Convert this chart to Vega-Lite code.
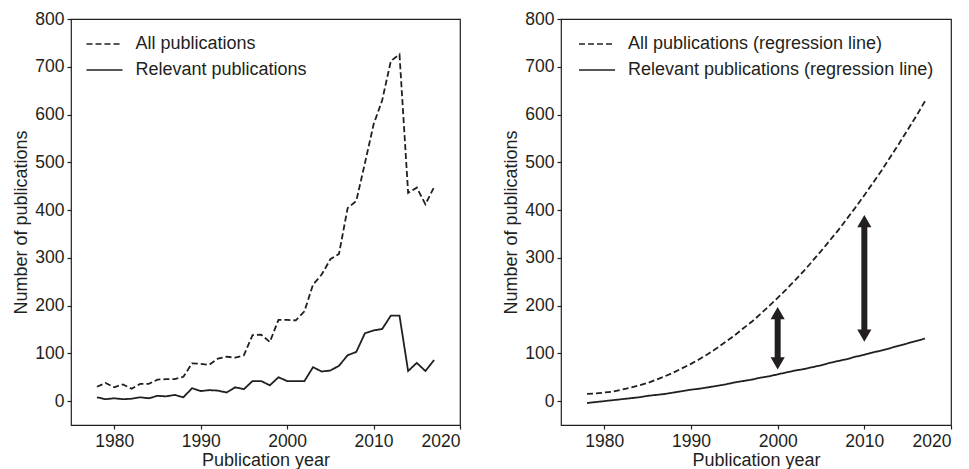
{
  "$schema": "https://vega.github.io/schema/vega-lite/v6.json",
  "background": "white",
  "padding": {"left": 12, "top": 9, "right": 0, "bottom": 0},
  "spacing": 40,
  "config": {
    "font": "Liberation Sans",
    "view": {"stroke": "#231f20", "strokeWidth": 1.2},
    "axis": {"grid": false, "domain": false, "tickColor": "#231f20", "tickSize": 4, "tickWidth": 1.2, "labelFontSize": 17.5, "labelColor": "#231f20", "labelPadding": 3, "titleFontSize": 18, "titleFontWeight": "normal", "titleColor": "#231f20", "titlePadding": 4},
    "axisX": {"titlePadding": 2},
    "legend": {"title": null, "symbolType": "M-2,0H2", "symbolSize": 324, "symbolStrokeWidth": 1.5, "symbolStrokeColor": "#231f20", "labelFontSize": 18, "labelColor": "#231f20", "labelOffset": 21, "rowPadding": 7, "labelLimit": 500}
  },
  "datasets": {
    "raw": [
      {"year":1978,"series":"All publications","count":30},{"year":1979,"series":"All publications","count":38},{"year":1980,"series":"All publications","count":29},{"year":1981,"series":"All publications","count":35},{"year":1982,"series":"All publications","count":26},{"year":1983,"series":"All publications","count":36},{"year":1984,"series":"All publications","count":36},{"year":1985,"series":"All publications","count":45},{"year":1986,"series":"All publications","count":46},{"year":1987,"series":"All publications","count":46},{"year":1988,"series":"All publications","count":51},{"year":1989,"series":"All publications","count":79},{"year":1990,"series":"All publications","count":78},{"year":1991,"series":"All publications","count":76},{"year":1992,"series":"All publications","count":89},{"year":1993,"series":"All publications","count":93},{"year":1994,"series":"All publications","count":91},{"year":1995,"series":"All publications","count":96},{"year":1996,"series":"All publications","count":138},{"year":1997,"series":"All publications","count":139},{"year":1998,"series":"All publications","count":124},{"year":1999,"series":"All publications","count":170},{"year":2000,"series":"All publications","count":170},{"year":2001,"series":"All publications","count":169},{"year":2002,"series":"All publications","count":188},{"year":2003,"series":"All publications","count":244},{"year":2004,"series":"All publications","count":265},{"year":2005,"series":"All publications","count":297},{"year":2006,"series":"All publications","count":308},{"year":2007,"series":"All publications","count":404},{"year":2008,"series":"All publications","count":419},{"year":2009,"series":"All publications","count":498},{"year":2010,"series":"All publications","count":579},{"year":2011,"series":"All publications","count":630},{"year":2012,"series":"All publications","count":712},{"year":2013,"series":"All publications","count":726},{"year":2014,"series":"All publications","count":436},{"year":2015,"series":"All publications","count":447},{"year":2016,"series":"All publications","count":412},{"year":2017,"series":"All publications","count":448},
      {"year":1978,"series":"Relevant publications","count":8},{"year":1979,"series":"Relevant publications","count":4},{"year":1980,"series":"Relevant publications","count":6},{"year":1981,"series":"Relevant publications","count":4},{"year":1982,"series":"Relevant publications","count":5},{"year":1983,"series":"Relevant publications","count":8},{"year":1984,"series":"Relevant publications","count":6},{"year":1985,"series":"Relevant publications","count":11},{"year":1986,"series":"Relevant publications","count":10},{"year":1987,"series":"Relevant publications","count":13},{"year":1988,"series":"Relevant publications","count":8},{"year":1989,"series":"Relevant publications","count":27},{"year":1990,"series":"Relevant publications","count":21},{"year":1991,"series":"Relevant publications","count":23},{"year":1992,"series":"Relevant publications","count":22},{"year":1993,"series":"Relevant publications","count":18},{"year":1994,"series":"Relevant publications","count":29},{"year":1995,"series":"Relevant publications","count":25},{"year":1996,"series":"Relevant publications","count":42},{"year":1997,"series":"Relevant publications","count":42},{"year":1998,"series":"Relevant publications","count":33},{"year":1999,"series":"Relevant publications","count":50},{"year":2000,"series":"Relevant publications","count":42},{"year":2001,"series":"Relevant publications","count":42},{"year":2002,"series":"Relevant publications","count":42},{"year":2003,"series":"Relevant publications","count":71},{"year":2004,"series":"Relevant publications","count":62},{"year":2005,"series":"Relevant publications","count":64},{"year":2006,"series":"Relevant publications","count":74},{"year":2007,"series":"Relevant publications","count":96},{"year":2008,"series":"Relevant publications","count":103},{"year":2009,"series":"Relevant publications","count":142},{"year":2010,"series":"Relevant publications","count":148},{"year":2011,"series":"Relevant publications","count":151},{"year":2012,"series":"Relevant publications","count":179},{"year":2013,"series":"Relevant publications","count":179},{"year":2014,"series":"Relevant publications","count":63},{"year":2015,"series":"Relevant publications","count":80},{"year":2016,"series":"Relevant publications","count":63},{"year":2017,"series":"Relevant publications","count":86}
    ],
    "fit": [
      {"year":1978,"series":"All publications (regression line)","count":15},{"year":1979,"series":"All publications (regression line)","count":16},{"year":1980,"series":"All publications (regression line)","count":18},{"year":1981,"series":"All publications (regression line)","count":20},{"year":1982,"series":"All publications (regression line)","count":24},{"year":1983,"series":"All publications (regression line)","count":28},{"year":1984,"series":"All publications (regression line)","count":33},{"year":1985,"series":"All publications (regression line)","count":38},{"year":1986,"series":"All publications (regression line)","count":45},{"year":1987,"series":"All publications (regression line)","count":52},{"year":1988,"series":"All publications (regression line)","count":60},{"year":1989,"series":"All publications (regression line)","count":69},{"year":1990,"series":"All publications (regression line)","count":78},{"year":1991,"series":"All publications (regression line)","count":88},{"year":1992,"series":"All publications (regression line)","count":99},{"year":1993,"series":"All publications (regression line)","count":111},{"year":1994,"series":"All publications (regression line)","count":124},{"year":1995,"series":"All publications (regression line)","count":137},{"year":1996,"series":"All publications (regression line)","count":152},{"year":1997,"series":"All publications (regression line)","count":166},{"year":1998,"series":"All publications (regression line)","count":182},{"year":1999,"series":"All publications (regression line)","count":199},{"year":2000,"series":"All publications (regression line)","count":216},{"year":2001,"series":"All publications (regression line)","count":234},{"year":2002,"series":"All publications (regression line)","count":253},{"year":2003,"series":"All publications (regression line)","count":272},{"year":2004,"series":"All publications (regression line)","count":293},{"year":2005,"series":"All publications (regression line)","count":314},{"year":2006,"series":"All publications (regression line)","count":336},{"year":2007,"series":"All publications (regression line)","count":358},{"year":2008,"series":"All publications (regression line)","count":382},{"year":2009,"series":"All publications (regression line)","count":406},{"year":2010,"series":"All publications (regression line)","count":431},{"year":2011,"series":"All publications (regression line)","count":457},{"year":2012,"series":"All publications (regression line)","count":483},{"year":2013,"series":"All publications (regression line)","count":511},{"year":2014,"series":"All publications (regression line)","count":539},{"year":2015,"series":"All publications (regression line)","count":568},{"year":2016,"series":"All publications (regression line)","count":597},{"year":2017,"series":"All publications (regression line)","count":628},
      {"year":1978,"series":"Relevant publications (regression line)","count":-4},{"year":1979,"series":"Relevant publications (regression line)","count":-2},{"year":1980,"series":"Relevant publications (regression line)","count":0},{"year":1981,"series":"Relevant publications (regression line)","count":2},{"year":1982,"series":"Relevant publications (regression line)","count":4},{"year":1983,"series":"Relevant publications (regression line)","count":6},{"year":1984,"series":"Relevant publications (regression line)","count":8},{"year":1985,"series":"Relevant publications (regression line)","count":11},{"year":1986,"series":"Relevant publications (regression line)","count":13},{"year":1987,"series":"Relevant publications (regression line)","count":15},{"year":1988,"series":"Relevant publications (regression line)","count":18},{"year":1989,"series":"Relevant publications (regression line)","count":21},{"year":1990,"series":"Relevant publications (regression line)","count":24},{"year":1991,"series":"Relevant publications (regression line)","count":26},{"year":1992,"series":"Relevant publications (regression line)","count":29},{"year":1993,"series":"Relevant publications (regression line)","count":32},{"year":1994,"series":"Relevant publications (regression line)","count":35},{"year":1995,"series":"Relevant publications (regression line)","count":39},{"year":1996,"series":"Relevant publications (regression line)","count":42},{"year":1997,"series":"Relevant publications (regression line)","count":45},{"year":1998,"series":"Relevant publications (regression line)","count":49},{"year":1999,"series":"Relevant publications (regression line)","count":52},{"year":2000,"series":"Relevant publications (regression line)","count":56},{"year":2001,"series":"Relevant publications (regression line)","count":60},{"year":2002,"series":"Relevant publications (regression line)","count":64},{"year":2003,"series":"Relevant publications (regression line)","count":67},{"year":2004,"series":"Relevant publications (regression line)","count":71},{"year":2005,"series":"Relevant publications (regression line)","count":75},{"year":2006,"series":"Relevant publications (regression line)","count":80},{"year":2007,"series":"Relevant publications (regression line)","count":84},{"year":2008,"series":"Relevant publications (regression line)","count":88},{"year":2009,"series":"Relevant publications (regression line)","count":93},{"year":2010,"series":"Relevant publications (regression line)","count":97},{"year":2011,"series":"Relevant publications (regression line)","count":102},{"year":2012,"series":"Relevant publications (regression line)","count":106},{"year":2013,"series":"Relevant publications (regression line)","count":111},{"year":2014,"series":"Relevant publications (regression line)","count":116},{"year":2015,"series":"Relevant publications (regression line)","count":121},{"year":2016,"series":"Relevant publications (regression line)","count":126},{"year":2017,"series":"Relevant publications (regression line)","count":131}
    ],
    "arrows": [
      {"year":2000,"low":79,"high":184},
      {"year":2010,"low":137,"high":377}
    ],
    "heads": [
      {"year":2000,"pos":184,"dir":"up"},
      {"year":2000,"pos":79,"dir":"down"},
      {"year":2010,"pos":377,"dir":"up"},
      {"year":2010,"pos":137,"dir":"down"}
    ]
  },
  "resolve": {"scale": {"strokeDash": "independent"}, "legend": {"strokeDash": "independent"}},
  "hconcat": [
    {
      "width": 389,
      "height": 406,
      "data": {"name": "raw"},
      "mark": {"type": "line", "color": "#231f20", "strokeWidth": 1.8},
      "encoding": {
        "x": {"field": "year", "type": "quantitative", "scale": {"domain": [1975, 2020], "nice": false, "zero": false}, "axis": {"values": [1980, 1990, 2000, 2010, 2020], "format": "d", "title": "Publication year"}},
        "y": {"field": "count", "type": "quantitative", "scale": {"domain": [-50, 800], "nice": false, "zero": false}, "axis": {"values": [0, 100, 200, 300, 400, 500, 600, 700, 800], "title": "Number of publications"}},
        "strokeDash": {"field": "series", "type": "nominal", "scale": {"domain": ["All publications", "Relevant publications"], "range": [[6, 3], [1, 0]]}, "legend": {"orient": "none", "legendX": 23.5, "legendY": 15, "symbolType": "M-2,0H2"}}
      }
    },
    {
      "width": 390,
      "height": 406,
      "layer": [
        {
          "data": {"name": "fit"},
          "mark": {"type": "line", "color": "#231f20", "strokeWidth": 1.8},
          "encoding": {
            "x": {"field": "year", "type": "quantitative", "scale": {"domain": [1975, 2020], "nice": false, "zero": false}, "axis": {"values": [1980, 1990, 2000, 2010, 2020], "format": "d", "title": "Publication year"}},
            "y": {"field": "count", "type": "quantitative", "scale": {"domain": [-50, 800], "nice": false, "zero": false}, "axis": {"values": [0, 100, 200, 300, 400, 500, 600, 700, 800], "title": "Number of publications"}},
            "strokeDash": {"field": "series", "type": "nominal", "scale": {"domain": ["All publications (regression line)", "Relevant publications (regression line)"], "range": [[6, 3], [1, 0]]}, "legend": {"orient": "none", "legendX": 26, "legendY": 15, "symbolType": "M-2,0H2"}}
          }
        },
        {
          "data": {"name": "arrows"},
          "mark": {"type": "rule", "color": "#231f20", "strokeWidth": 6},
          "encoding": {
            "x": {"field": "year", "type": "quantitative"},
            "y": {"field": "low", "type": "quantitative"},
            "y2": {"field": "high"}
          }
        },
        {
          "data": {"name": "heads"},
          "mark": {"type": "point", "filled": true, "color": "#231f20", "size": 200, "opacity": 1},
          "encoding": {
            "x": {"field": "year", "type": "quantitative"},
            "y": {"field": "pos", "type": "quantitative"},
            "shape": {"field": "dir", "type": "nominal", "scale": {"domain": ["up", "down"], "range": ["triangle-up", "triangle-down"]}, "legend": null}
          }
        }
      ]
    }
  ]
}
